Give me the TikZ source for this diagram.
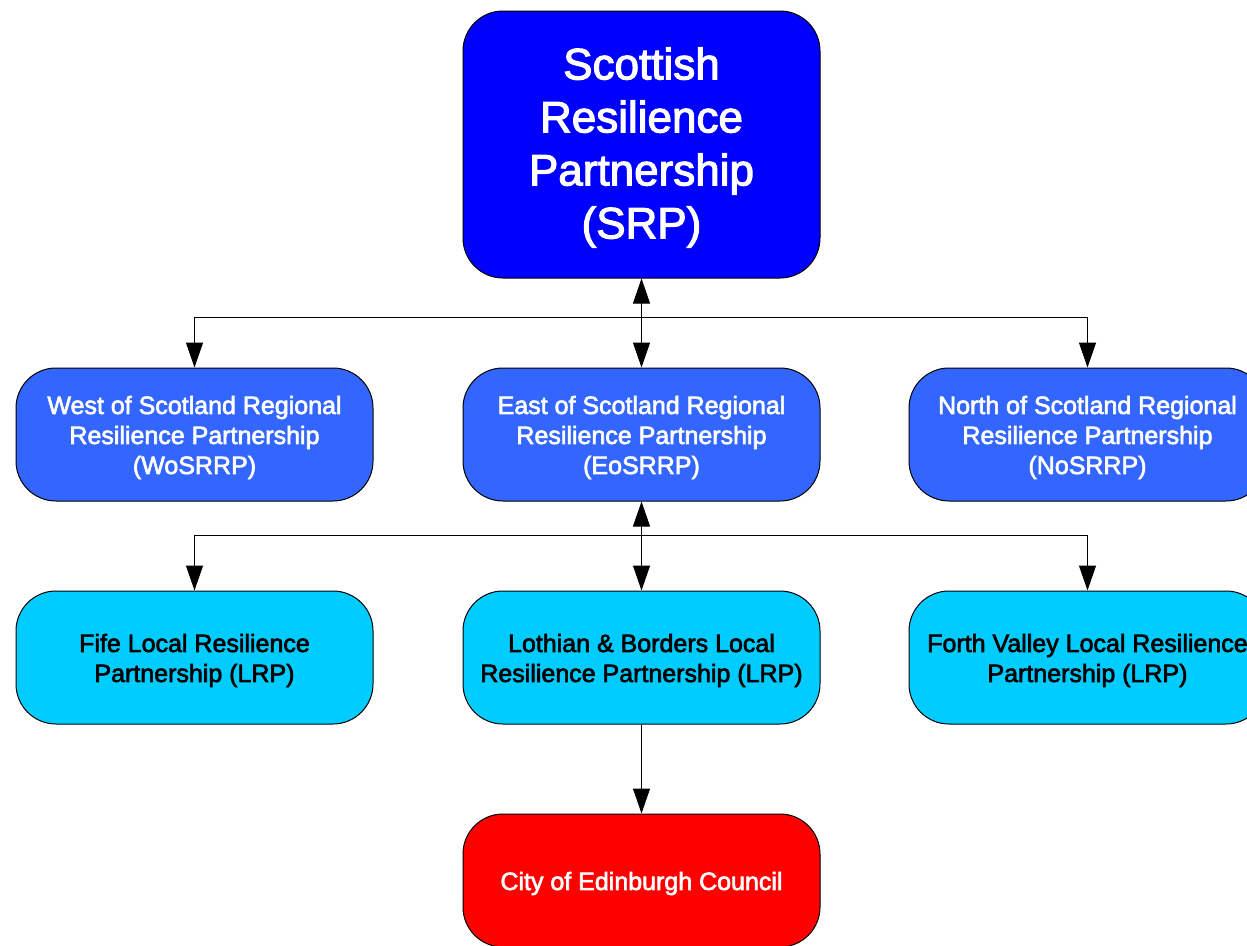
\documentclass[tikz,border=0pt]{standalone}
\usepackage{fontspec}
\setmainfont{Liberation Sans}[RawFeature={embolden=2.5}]
\usetikzlibrary{arrows.meta}
\definecolor{srpblue}{RGB}{0,0,255}
\definecolor{regblue}{RGB}{51,102,255}
\definecolor{lrpcyan}{RGB}{0,204,255}
\definecolor{councilred}{RGB}{255,0,0}
\tikzset{
  box/.style={draw=black, line width=1pt, rounded corners=40pt, minimum width=357pt, minimum height=133pt, inner sep=0pt},
  topbox/.style={box, fill=srpblue, minimum height=267pt},
  regbox/.style={box, fill=regblue},
  lrpbox/.style={box, fill=lrpcyan},
  councilbox/.style={box, fill=councilred},
  label/.style={inner sep=0pt, align=center, font=\fontsize{25}{30}\selectfont},
  toplabel/.style={label, text=white, font=\fontsize{44}{53}\selectfont},
  whitelabel/.style={label, text=white},
  blacklabel/.style={label, text=black},
  conn/.style={line width=1pt, black},
  tip/.style={-{Triangle[length=25pt,width=17pt]}},
  dtip/.style={{Triangle[length=25pt,width=17pt]}-{Triangle[length=25pt,width=17pt]}}
}
\begin{document}
\begin{tikzpicture}[x=1pt,y=-1pt]
\useasboundingbox (0,0) rectangle (1247,945);
\clip (0,0) rectangle (1247,945);
\fill[white] (0,0) rectangle (1247,945);
\node[topbox] (srp) at (641.5,144.5) {};
\node[regbox] (west) at (194.5,434.5) {};
\node[regbox] (east) at (641.5,434.5) {};
\node[regbox] (north) at (1087.5,434.5) {};
\node[lrpbox] (fife) at (194.5,657.5) {};
\node[lrpbox] (lothian) at (641.5,657.5) {};
\node[lrpbox] (forth) at (1087.5,657.5) {};
\node[councilbox] (council) at (641.5,880.5) {};
\node[toplabel] (srptext) at ([yshift=-3pt]srp.center) {Scottish\\Resilience\\Partnership\\(SRP)};
\node[whitelabel] (westtext) at ([yshift=-3pt]west.center) {West of Scotland Regional\\Resilience Partnership\\(WoSRRP)};
\node[whitelabel] (easttext) at ([yshift=-3pt]east.center) {East of Scotland Regional\\Resilience Partnership\\(EoSRRP)};
\node[whitelabel] (northtext) at ([yshift=-3pt]north.center) {North of Scotland Regional\\Resilience Partnership\\(NoSRRP)};
\node[blacklabel] (fifetext) at ([yshift=-3pt]fife.center) {Fife Local Resilience\\Partnership (LRP)};
\node[blacklabel] (lothiantext) at ([yshift=-3pt]lothian.center) {Lothian \& Borders Local\\Resilience Partnership (LRP)};
\node[blacklabel] (forthtext) at ([yshift=-3pt]forth.center) {Forth Valley Local Resilience\\Partnership (LRP)};
\node[whitelabel] (counciltext) at ([yshift=-3pt]council.center) {City of Edinburgh Council};
\coordinate (hubA) at (641.5,317);
\coordinate (hubB) at (641.5,535);
\draw[conn,dtip] (srp.south) -- (east.north);
\draw[conn,tip] (hubA) -| (west.north);
\draw[conn,tip] (hubA) -| (north.north);
\draw[conn,dtip] (east.south) -- (lothian.north);
\draw[conn,tip] (hubB) -| (fife.north);
\draw[conn,tip] (hubB) -| (forth.north);
\draw[conn,tip] (lothian.south) -- (council.north);
\end{tikzpicture}
\end{document}
